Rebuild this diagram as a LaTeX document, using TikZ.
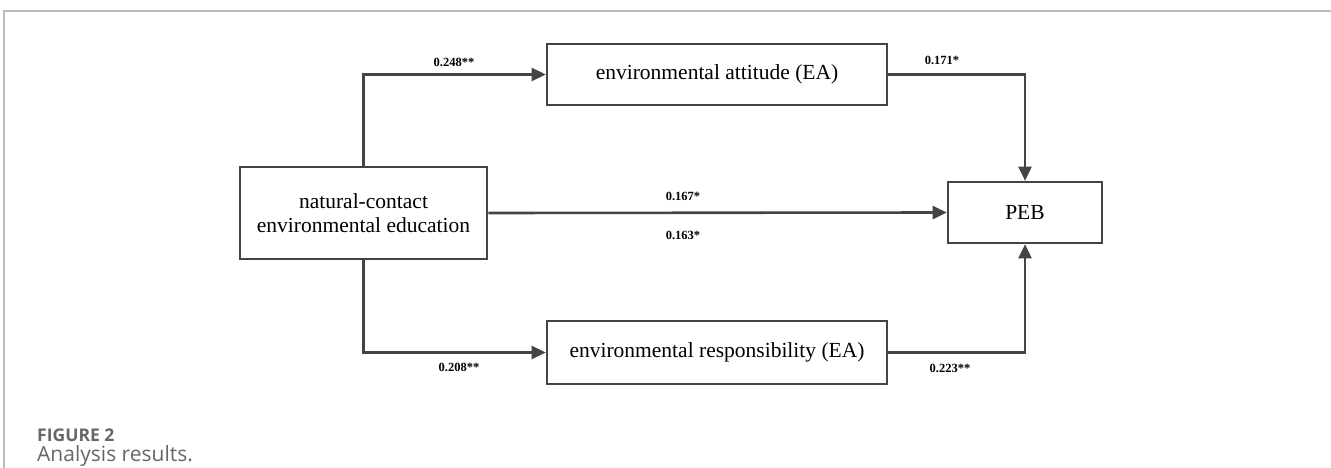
\documentclass[tikz,border=0pt]{standalone}
\usepackage{fontspec}
\setmainfont{Liberation Serif}
\newfontfamily\capfont{Open Sans}
\usetikzlibrary{arrows.meta}
\definecolor{linec}{HTML}{444444}
\definecolor{framec}{HTML}{BBBBBB}
\definecolor{capc}{HTML}{666666}
\tikzset{
  boxnode/.style={draw=linec, line width=2.6pt, fill=white, align=center, inner sep=0pt, font=\fontsize{21.5}{23.5}\selectfont},
  conn/.style={draw=linec, line width=2.6pt, -{Triangle[length=14pt,width=13pt]}},
  coef/.style={font=\bfseries\fontsize{12.5}{14}\selectfont, inner sep=0pt}
}
\begin{document}
\begin{tikzpicture}[x=1pt,y=-1pt]
\useasboundingbox (0,0) rectangle (1331,468);
\draw[framec, line width=1.3pt] (4,468) -- (4,11) -- (1331,11);
\node[boxnode, minimum width=247pt, minimum height=92pt] (nce) at (363.5,213) {natural-contact\\environmental education};
\node[boxnode, minimum width=340pt, minimum height=61pt] (ea) at (717,74.5) {environmental attitude (EA)};
\node[boxnode, minimum width=340pt, minimum height=63pt] (er) at (717,352.5) {environmental responsibility (EA)};
\node[boxnode, minimum width=154pt, minimum height=61pt] (peb) at (1025,212.5) {PEB};
\draw[conn] (nce.north) |- (ea.west);
\draw[conn] (nce.south) |- (er.west);
\draw[conn] (nce.east) -- (peb.west);
\draw[conn] (ea.east) -| (peb.north);
\draw[conn] (er.east) -| (peb.south);
\node[coef] (l1) at (454,62) {0.248**};
\node[coef] (l2) at (942,60) {0.171*};
\node[coef] (l3) at (683,196) {0.167*};
\node[coef] (l4) at (683,235) {0.163*};
\node[coef] (l5) at (459,367) {0.208**};
\node[coef] (l6) at (950,368) {0.223**};
\node[anchor=base west, inner sep=0pt, text=capc, font=\capfont\bfseries\fontsize{17.5}{19}\selectfont] (cap1) at (37,441) {FIGURE 2};
\node[anchor=base west, inner sep=0pt, text=capc, font=\capfont\fontsize{21}{23}\selectfont] (cap2) at (37,461) {Analysis results.};
\end{tikzpicture}
\end{document}
